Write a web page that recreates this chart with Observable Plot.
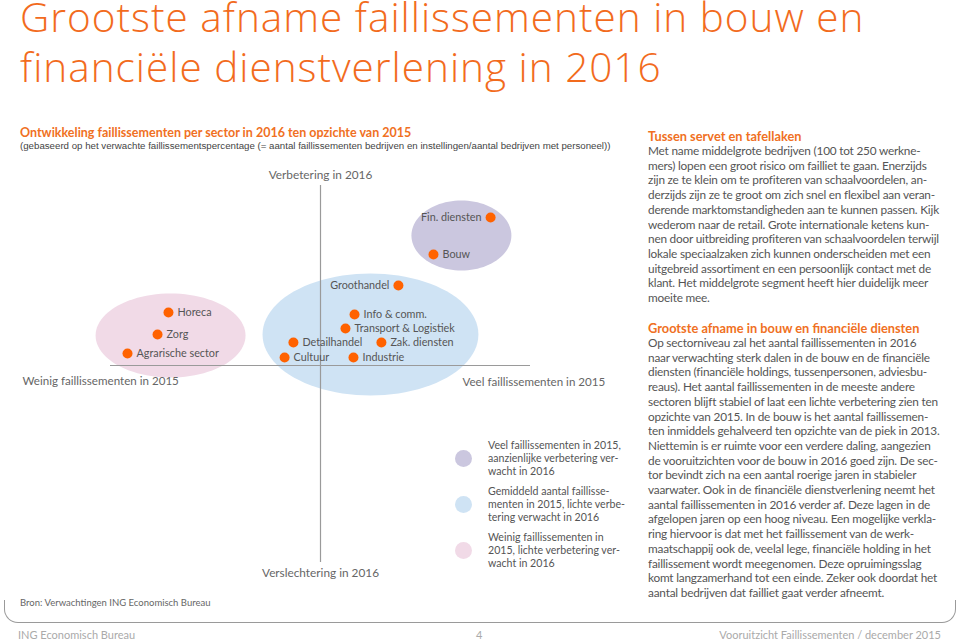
<!DOCTYPE html>
<html><head><meta charset="utf-8">
<script src="https://cdn.jsdelivr.net/npm/d3@7"></script>
<script src="https://cdn.jsdelivr.net/npm/@observablehq/plot@0.6"></script>
<style>
html,body{margin:0;padding:0;background:#fff;}
body{width:960px;height:641px;position:relative;overflow:hidden;font-family:Lato,"Open Sans",sans-serif;color:#555;}
.abs{position:absolute;white-space:nowrap;}
.title{left:20px;font-family:"Open Sans",sans-serif;font-weight:300;font-size:40.5px;letter-spacing:1px;color:#f26b1d;line-height:30px;}
.h{font-weight:bold;color:#f07023;font-size:12.8px;}
.body{font-size:11.8px;letter-spacing:-0.2px;line-height:14.7px;color:#555;}
.leg{font-size:10.6px;line-height:12.8px;color:#555;}
.dotleg{position:absolute;width:17px;height:17px;border-radius:50%;}
.foot{font-size:11px;color:#aaa;top:628px;}
</style></head><body>
<div class="abs title" style="top:2px">Grootste afname faillissementen in bouw en</div>
<div class="abs title" style="top:52px">financiële dienstverlening in 2016</div>
<div class="abs h" style="left:20px;top:125px;font-size:12.5px;">Ontwikkeling faillissementen per sector in 2016 ten opzichte van 2015</div>
<div class="abs" style="left:20px;top:140px;font-family:'Liberation Sans',Arial,sans-serif;font-size:9.7px;color:#444;">(gebaseerd op het verwachte faillissementspercentage (= aantal faillissementen bedrijven en instellingen/aantal bedrijven met personeel))</div>
<div id="chart" class="abs" style="left:0;top:160px;"></div>
<div id="legend"></div>
<div class="abs" style="left:20px;top:597px;font-size:9.5px;color:#666;">Bron: Verwachtingen ING Economisch Bureau</div>
<div id="right"></div>
<div class="abs" style="left:4px;top:600px;width:950px;height:22px;border:1px solid #9a9a9a;border-top:none;border-radius:0 0 14px 14px;"></div>
<div class="abs foot" style="left:18px;">ING Economisch Bureau</div>
<div class="abs foot" style="left:476px;">4</div>
<div class="abs foot" style="right:19px;">Vooruitzicht Faillissementen / december 2015</div>
<script>
// ---- data ----
const sectors = ["Fin. diensten","Bouw","Groothandel","Info & comm.","Transport & Logistiek","Detailhandel","Zak. diensten","Cultuur","Industrie","Horeca","Zorg","Agrarische sector"];
// faillissementen 2015 (links weinig, rechts veel)
const fail2015 = [8.1,5.38,3.71,1.62,1.19,-1.29,2.9,-1.71,1.57,-7.24,-7.76,-9.19];
// verbetering (+) / verslechtering (-) in 2016
const change2016 = [7.4,5.55,4.0,2.55,1.85,1.15,1.15,0.4,0.4,2.65,1.55,0.6];
const labelSide = ["left","right","left","right","right","right","right","right","right","right","right","right"];
const clusterNames = ["veel","gemiddeld","weinig"];
const clusterCx = [6.71,2.38,-7.14];
const clusterCy = [6.5,1.55,1.5];
const clusterRx = [2.38,5.14,3.57];
const clusterRy = [1.75,3.05,2.1];
const clusterColors = ["#cbc7df","#cfe3f4","#f1dae7"];
const legendTexts = [
  ["Veel faillissementen in 2015,","aanzienlijke verbetering ver-","wacht in 2016"],
  ["Gemiddeld aantal faillisse-","menten in 2015, lichte verbe-","tering verwacht in 2016"],
  ["Weinig faillissementen in","2015, lichte verbetering ver-","wacht in 2016"]
];
const axisLabels = {top:"Verbetering in 2016", bottom:"Verslechtering in 2016", left:"Weinig faillissementen in 2015", right:"Veel faillissementen in 2015"};
const xExtent = [-10,10];
const yExtent = [-9.85,9];

const rightBlocks = [
  {head:"Tussen servet en tafellaken", lines:[
  "Met name middelgrote bedrijven (100 tot 250 werkne-",
  "mers) lopen een groot risico om failliet te gaan. Enerzijds",
  "zijn ze te klein om te profiteren van schaalvoordelen, an-",
  "derzijds zijn ze te groot om zich snel en flexibel aan veran-",
  "derende marktomstandigheden aan te kunnen passen. Kijk",
  "wederom naar de retail. Grote internationale ketens kun-",
  "nen door uitbreiding profiteren van schaalvoordelen terwijl",
  "lokale speciaalzaken zich kunnen onderscheiden met een",
  "uitgebreid assortiment en een persoonlijk contact met de",
  "klant. Het middelgrote segment heeft hier duidelijk meer",
  "moeite mee."]},
  {head:"Grootste afname in bouw en financiële diensten", lines:[
  "Op sectorniveau zal het aantal faillissementen in 2016",
  "naar verwachting sterk dalen in de bouw en de financiële",
  "diensten (financiële holdings, tussenpersonen, adviesbu-",
  "reaus). Het aantal faillissementen in de meeste andere",
  "sectoren blijft stabiel of laat een lichte verbetering zien ten",
  "opzichte van 2015. In de bouw is het  aantal faillissemen-",
  "ten inmiddels gehalveerd ten opzichte van de piek in 2013.",
  "Niettemin is er ruimte voor een verdere daling, aangezien",
  "de vooruitzichten voor de bouw in 2016 goed zijn. De sec-",
  "tor bevindt zich na een aantal roerige jaren  in stabieler",
  "vaarwater. Ook in de financiële dienstverlening neemt het",
  "aantal faillissementen in 2016 verder af. Deze lagen in de",
  "afgelopen jaren op een hoog niveau. Een mogelijke verkla-",
  "ring hiervoor is dat met het faillissement van de werk-",
  "maatschappij ook de, veelal lege, financiële holding in het",
  "faillissement wordt meegenomen. Deze opruimingsslag",
  "komt langzamerhand tot een einde. Zeker ook doordat het",
  "aantal bedrijven dat failliet gaat verder afneemt."]}
];

// ---- build ----
const pts = sectors.map((s,i)=>({name:s, x:fail2015[i], y:change2016[i], side:labelSide[i]}));
function ellipse(i){
  const out=[];
  for(let k=0;k<=96;k++){const t=2*Math.PI*k/96;
    out.push({x:clusterCx[i]+clusterRx[i]*Math.cos(t), y:clusterCy[i]+clusterRy[i]*Math.sin(t)});}
  return out;
}
const font = "Lato, 'Open Sans', sans-serif";
const chart = Plot.plot({
  width:620, height:430,
  marginLeft:110, marginRight:90, marginTop:25, marginBottom:28,
  x:{domain:xExtent, axis:null},
  y:{domain:yExtent, axis:null},
  style:{overflow:"visible", fontFamily:font, background:"transparent"},
  marks:[
    ...clusterNames.map((c,i)=>Plot.line(ellipse(i),{x:"x",y:"y",curve:"linear-closed",fill:clusterColors[i],stroke:"none"})),
    Plot.ruleY([0],{x1:xExtent[0],x2:xExtent[1],stroke:"#9a9a9a",strokeWidth:1.2}),
    Plot.ruleX([0],{y1:yExtent[0],y2:yExtent[1],stroke:"#9a9a9a",strokeWidth:1.2}),
    Plot.dot(pts,{x:"x",y:"y",r:5,fill:"#ff6200",stroke:"none"}),
    Plot.text(pts.filter(d=>d.side==="right"),{x:"x",y:"y",text:"name",textAnchor:"start",dx:9,fontSize:10.8,fill:"#555",letterSpacing:"-0.2px"}),
    Plot.text(pts.filter(d=>d.side==="left"),{x:"x",y:"y",text:"name",textAnchor:"end",dx:-9,fontSize:10.8,fill:"#555",letterSpacing:"-0.2px"}),
    Plot.text([axisLabels.top],{x:()=>0,y:()=>yExtent[1],text:d=>d,dy:-10,fontSize:11.8,fill:"#666"}),
    Plot.text([axisLabels.bottom],{x:()=>0,y:()=>yExtent[0],text:d=>d,dy:11,fontSize:11.8,fill:"#666"}),
    Plot.text([axisLabels.left],{x:()=>xExtent[0],y:()=>0,text:d=>d,dx:-88,dy:16,textAnchor:"start",fontSize:11.6,fill:"#666"}),
    Plot.text([axisLabels.right],{x:()=>6.76,y:()=>0,text:d=>d,dy:17,textAnchor:"start",fontSize:11.6,fill:"#666"})
  ]
});
document.getElementById("chart").appendChild(chart);

// legend
const leg = document.getElementById("legend");
legendTexts.forEach((lines,i)=>{
  const top = 439 + i*46;
  const c = document.createElement("div");
  c.className="dotleg"; c.style.left="455px"; c.style.top=(top+11)+"px"; c.style.background=clusterColors[i];
  leg.appendChild(c);
  const t = document.createElement("div");
  t.className="abs leg"; t.style.left="488px"; t.style.top=top+"px";
  t.innerHTML = lines.join("<br>");
  leg.appendChild(t);
});

// right column
const right = document.getElementById("right");
const tops=[128,320];
rightBlocks.forEach((b,i)=>{
  const h=document.createElement("div"); h.className="abs h"; h.style.left="648px"; h.style.top=tops[i]+"px"; h.textContent=b.head; right.appendChild(h);
  const d=document.createElement("div"); d.className="abs body"; d.style.left="648px"; d.style.top=(tops[i]+16)+"px"; d.innerHTML=b.lines.join("<br>"); right.appendChild(d);
});
</script>
</body></html>
